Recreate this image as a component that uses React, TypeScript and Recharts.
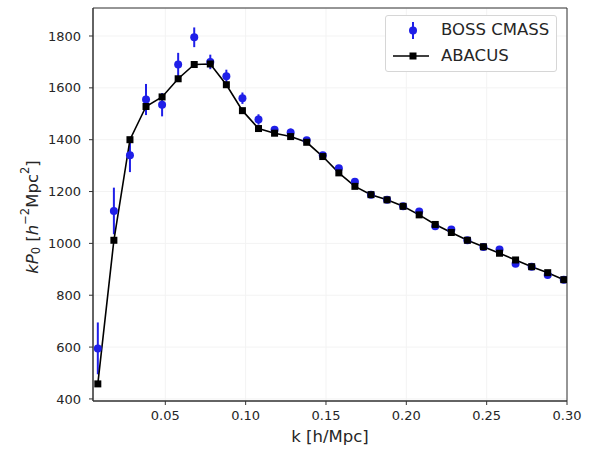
import React from 'react';
import {
  ComposedChart,
  Line,
  Scatter,
  ErrorBar,
  XAxis,
  YAxis,
  CartesianGrid,
  ReferenceArea,
} from 'recharts';

// wavenumber bins [h/Mpc]
const kBins = [
  0.008, 0.018, 0.028, 0.038, 0.048, 0.058, 0.068, 0.078, 0.088, 0.098,
  0.108, 0.118, 0.128, 0.138, 0.148, 0.158, 0.168, 0.178, 0.188, 0.198,
  0.208, 0.218, 0.228, 0.238, 0.248, 0.258, 0.268, 0.278, 0.288, 0.298,
];

// BOSS CMASS measurement, k * P0
const bossValues = [
  595, 1125, 1340, 1555, 1535, 1690, 1795, 1700, 1645, 1560,
  1478, 1438, 1428, 1398, 1340, 1290, 1238, 1188, 1168, 1143,
  1123, 1066, 1054, 1012, 986, 976, 921, 910, 878, 860,
];

// 1-sigma errors
const bossErrors = [
  100, 90, 65, 60, 45, 45, 38, 28, 25, 22,
  20, 15, 15, 12, 12, 12, 12, 10, 10, 10,
  10, 10, 10, 10, 10, 10, 10, 10, 10, 10,
];

// ABACUS mock mean
const abacusValues = [
  458, 1012, 1400, 1528, 1565, 1635, 1690, 1692, 1612, 1512,
  1443, 1425, 1412, 1390, 1335, 1272, 1220, 1188, 1168, 1143,
  1110, 1073, 1042, 1012, 987, 962, 936, 910, 887, 860,
];

const xTicks = [0.05, 0.1, 0.15, 0.2, 0.25, 0.3];
const yTicks = [400, 600, 800, 1000, 1200, 1400, 1600, 1800];

const X_DOMAIN = [0.005, 0.3];
const Y_DOMAIN = [392, 1908];

const BLUE = '#1f1fe8';
const INK = '#262626';
const FONT = 'DejaVu Sans';

const rows = kBins.map((k, i) => ({
  k,
  boss: bossValues[i],
  bossErr: bossErrors[i],
  abacus: abacusValues[i],
}));

function SquareDot(props: any) {
  const { cx, cy, index } = props;
  if (cx == null || cy == null) return null;
  return <rect key={`sq-${index}`} x={cx - 3.5} y={cy - 3.5} width={7} height={7} fill="#000" />;
}

function BlueDot(props: any) {
  const { cx, cy } = props;
  if (cx == null || cy == null) return null;
  return <circle cx={cx} cy={cy} r={4} fill={BLUE} />;
}

function XLabel() {
  return (
    <text x={330} y={442} textAnchor="middle" fill={INK} fontSize={16.5} fontFamily={FONT}>
      k [h/Mpc]
    </text>
  );
}

function YLabel() {
  return (
    <text
      x={32}
      y={217}
      transform="rotate(-90, 32, 217)"
      textAnchor="middle"
      dominantBaseline="central"
      fill={INK}
      fontSize={16.5}
      fontFamily={FONT}
    >
      <tspan fontStyle="italic">kP</tspan>
      <tspan fontSize={11.5} dy={4}>0</tspan>
      <tspan dy={-4}> [</tspan>
      <tspan fontStyle="italic">h</tspan>
      <tspan fontSize={11.5} dy={-7}>−2</tspan>
      <tspan dy={7}>Mpc</tspan>
      <tspan fontSize={11.5} dy={-7}>2</tspan>
      <tspan dy={7}>]</tspan>
    </text>
  );
}

function LegendBox() {
  return (
    <div
      style={{
        position: 'absolute',
        left: 385,
        top: 15,
        width: 172,
        height: 57,
        boxSizing: 'border-box',
        border: '1px solid #d6d6d6',
        borderRadius: 3,
        background: '#fff',
        fontFamily: FONT,
        fontSize: 16.5,
        color: INK,
      }}
    >
      <svg width={40} height={55} style={{ position: 'absolute', left: 5, top: 0 }}>
        <line x1={22} y1={6} x2={22} y2={23} stroke={BLUE} strokeWidth={2} />
        <circle cx={22} cy={14.5} r={4} fill={BLUE} />
        <line x1={2} y1={40} x2={38} y2={40} stroke="#000" strokeWidth={1.5} />
        <rect x={18.5} y={36.5} width={7} height={7} fill="#000" />
      </svg>
      <div style={{ position: 'absolute', left: 55, top: 4, lineHeight: '20px' }}>BOSS CMASS</div>
      <div style={{ position: 'absolute', left: 55, top: 30, lineHeight: '20px' }}>ABACUS</div>
    </div>
  );
}

export default function App() {
  return (
    <div
      style={{
        position: 'absolute',
        left: 0,
        top: 0,
        width: 598,
        height: 449,
        background: '#fff',
      }}
    >
      <ComposedChart
        width={598}
        height={449}
        data={rows}
        margin={{ top: 8, right: 31, bottom: 0, left: 0 }}
      >
        <CartesianGrid stroke="#f3f3f3" strokeWidth={1} />
        <XAxis
          type="number"
          dataKey="k"
          domain={X_DOMAIN}
          ticks={xTicks}
          allowDataOverflow
          tickFormatter={(v: number) => v.toFixed(2)}
          height={48}
          stroke="#333"
          tickSize={4}
          tickMargin={6}
          tick={{ fill: INK, fontSize: 13, fontFamily: FONT }}
          label={<XLabel />}
        />
        <YAxis
          type="number"
          domain={Y_DOMAIN}
          ticks={yTicks}
          allowDataOverflow
          width={93}
          stroke="#333"
          tickSize={4}
          tickMargin={8}
          tick={{ fill: INK, fontSize: 13, fontFamily: FONT }}
          label={<YLabel />}
        />
        <ReferenceArea
          x1={X_DOMAIN[0]}
          x2={X_DOMAIN[1]}
          y1={Y_DOMAIN[0]}
          y2={Y_DOMAIN[1]}
          fill="none"
          stroke="#333"
          strokeWidth={1}
        />
        <Scatter dataKey="boss" name="BOSS CMASS" shape={<BlueDot />} isAnimationActive={false}>
          <ErrorBar
            dataKey="bossErr"
            direction="y"
            width={0}
            stroke={BLUE}
            strokeWidth={2}
            isAnimationActive={false}
          />
        </Scatter>
        <Line
          type="linear"
          dataKey="abacus"
          name="ABACUS"
          stroke="#000"
          strokeWidth={1.6}
          dot={SquareDot}
          activeDot={false}
          isAnimationActive={false}
        />
      </ComposedChart>
      <LegendBox />
    </div>
  );
}
